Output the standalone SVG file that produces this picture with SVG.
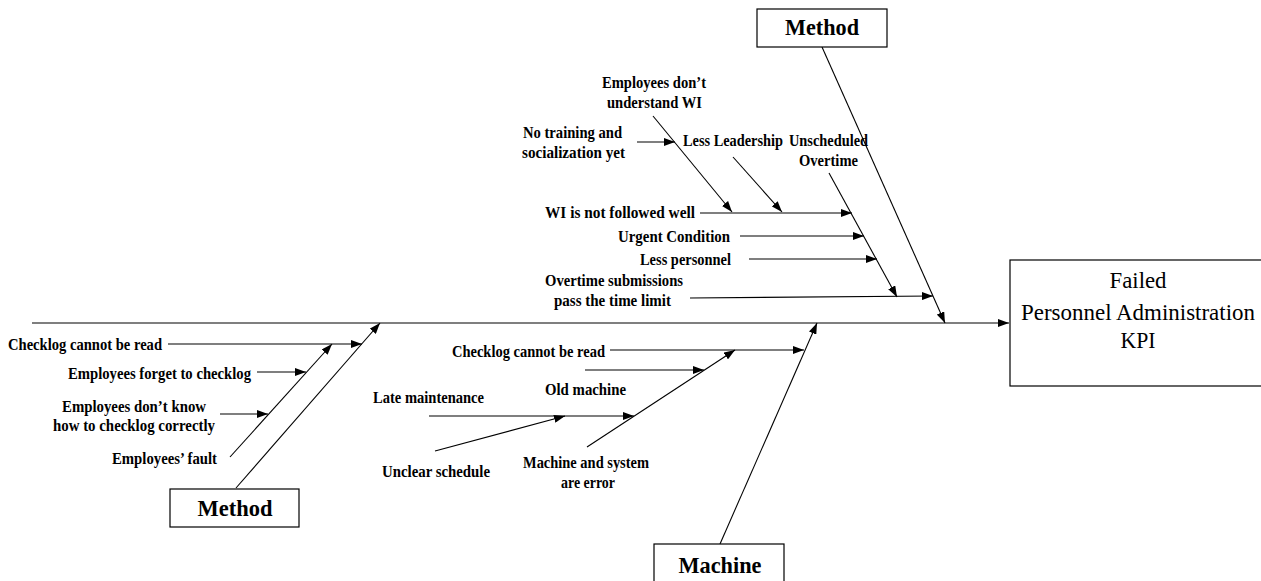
<svg xmlns="http://www.w3.org/2000/svg" width="1261" height="581" viewBox="0 0 1261 581">
<style>
.t{font-family:"Liberation Serif","Times New Roman",serif;font-weight:bold;font-size:17px;fill:#000}
.h{font-family:"Liberation Serif","Times New Roman",serif;font-weight:bold;font-size:23px;fill:#000;text-anchor:middle}
.k{font-family:"Liberation Serif","Times New Roman",serif;font-size:23px;fill:#000;text-anchor:middle}
.box{fill:#fff;stroke:#000;stroke-width:1.2}
.c line{stroke:#000;stroke-width:1.1}
.a{marker-end:url(#ah)}
</style>
<defs>
<marker id="ah" markerUnits="userSpaceOnUse" markerWidth="11" markerHeight="8" refX="11" refY="4" orient="auto">
<path d="M0,0 L11,4 L0,8 z" fill="#000"/>
</marker>
</defs>
<rect width="1261" height="581" fill="#fff"/>

<g id="connectors" class="c">
<line class="a" x1="32" y1="323" x2="1009" y2="323"/>
<line class="a" x1="822" y1="47" x2="945" y2="323"/>
<line class="a" x1="829" y1="173" x2="897" y2="297"/>
<line class="a" x1="653" y1="116" x2="732" y2="212"/>
<line class="a" x1="733" y1="157" x2="782" y2="212"/>
<line class="a" x1="637" y1="142" x2="675" y2="142"/>
<line class="a" x1="700" y1="213" x2="852" y2="213"/>
<line class="a" x1="740" y1="236" x2="864" y2="236"/>
<line class="a" x1="749" y1="259" x2="877" y2="259"/>
<line class="a" x1="690" y1="298" x2="933" y2="296"/>
<line class="a" x1="236" y1="488" x2="380" y2="323"/>
<line class="a" x1="230" y1="457" x2="332" y2="344"/>
<line class="a" x1="168" y1="344" x2="362" y2="344"/>
<line class="a" x1="257" y1="372" x2="306" y2="372"/>
<line class="a" x1="220" y1="414" x2="268" y2="414"/>
<line class="a" x1="720" y1="544" x2="817" y2="323"/>
<line class="a" x1="610" y1="350" x2="804" y2="350"/>
<line class="a" x1="587" y1="447" x2="735" y2="350"/>
<line class="a" x1="585" y1="370" x2="704" y2="370"/>
<line class="a" x1="429" y1="416" x2="634" y2="416"/>
<line class="a" x1="435" y1="451" x2="565" y2="416"/>
</g>

<g id="head">
<rect class="box" x="1010" y="260" width="270" height="126"/>
<text class="k" x="1138" y="288" textLength="57" lengthAdjust="spacingAndGlyphs">Failed</text>
<text class="k" x="1138" y="320" textLength="234" lengthAdjust="spacingAndGlyphs">Personnel Administration</text>
<text class="k" x="1138" y="348" textLength="35" lengthAdjust="spacingAndGlyphs">KPI</text>
</g>

<g id="method-top">
<rect class="box" x="757" y="9" width="130" height="38"/>
<text class="h" x="822" y="35" textLength="74" lengthAdjust="spacingAndGlyphs">Method</text>
</g>

<g id="method-bottom">
<rect class="box" x="170" y="489" width="129" height="38"/>
<text class="h" x="235" y="516" textLength="75" lengthAdjust="spacingAndGlyphs">Method</text>
</g>

<g id="machine">
<rect class="box" x="654" y="544" width="130" height="50"/>
<text class="h" x="720" y="573" textLength="83" lengthAdjust="spacingAndGlyphs">Machine</text>
</g>

<g id="cause-employees-dont-understand">
<text class="t" x="602" y="88" textLength="104" lengthAdjust="spacingAndGlyphs">Employees don’t</text>
<text class="t" x="607" y="108" textLength="95" lengthAdjust="spacingAndGlyphs">understand WI</text>
</g>
<g id="cause-no-training">
<text class="t" x="523" y="138" textLength="99" lengthAdjust="spacingAndGlyphs">No training and</text>
<text class="t" x="522" y="158" textLength="103" lengthAdjust="spacingAndGlyphs">socialization yet</text>
</g>
<g id="cause-less-leadership">
<text class="t" x="683" y="146" textLength="100" lengthAdjust="spacingAndGlyphs">Less Leadership</text>
</g>
<g id="cause-unscheduled-overtime">
<text class="t" x="789" y="146" textLength="79" lengthAdjust="spacingAndGlyphs">Unscheduled</text>
<text class="t" x="799" y="166" textLength="59" lengthAdjust="spacingAndGlyphs">Overtime</text>
</g>
<g id="cause-wi-not-followed">
<text class="t" x="545" y="218" textLength="150" lengthAdjust="spacingAndGlyphs">WI is not followed well</text>
</g>
<g id="cause-urgent">
<text class="t" x="618" y="242" textLength="112" lengthAdjust="spacingAndGlyphs">Urgent Condition</text>
</g>
<g id="cause-less-personnel">
<text class="t" x="640" y="265" textLength="91" lengthAdjust="spacingAndGlyphs">Less personnel</text>
</g>
<g id="cause-overtime-submissions">
<text class="t" x="545" y="286" textLength="138" lengthAdjust="spacingAndGlyphs">Overtime submissions</text>
<text class="t" x="554" y="306" textLength="117" lengthAdjust="spacingAndGlyphs">pass the time limit</text>
</g>

<g id="cause-checklog-left">
<text class="t" x="8" y="350" textLength="154" lengthAdjust="spacingAndGlyphs">Checklog cannot be read</text>
</g>
<g id="cause-forget">
<text class="t" x="68" y="379" textLength="183" lengthAdjust="spacingAndGlyphs">Employees forget to checklog</text>
</g>
<g id="cause-dont-know">
<text class="t" x="62" y="412" textLength="144" lengthAdjust="spacingAndGlyphs">Employees don’t know</text>
<text class="t" x="53" y="431" textLength="162" lengthAdjust="spacingAndGlyphs">how to checklog correctly</text>
</g>
<g id="cause-employees-fault">
<text class="t" x="112" y="464" textLength="105" lengthAdjust="spacingAndGlyphs">Employees’ fault</text>
</g>

<g id="cause-checklog-machine">
<text class="t" x="452" y="357" textLength="153" lengthAdjust="spacingAndGlyphs">Checklog cannot be read</text>
</g>
<g id="cause-old-machine">
<text class="t" x="545" y="395" textLength="81" lengthAdjust="spacingAndGlyphs">Old machine</text>
</g>
<g id="cause-late-maintenance">
<text class="t" x="373" y="403" textLength="111" lengthAdjust="spacingAndGlyphs">Late maintenance</text>
</g>
<g id="cause-unclear-schedule">
<text class="t" x="382" y="477" textLength="108" lengthAdjust="spacingAndGlyphs">Unclear schedule</text>
</g>
<g id="cause-machine-system-error">
<text class="t" x="523" y="468" textLength="126" lengthAdjust="spacingAndGlyphs">Machine and system</text>
<text class="t" x="561" y="488" textLength="54" lengthAdjust="spacingAndGlyphs">are error</text>
</g>
</svg>
